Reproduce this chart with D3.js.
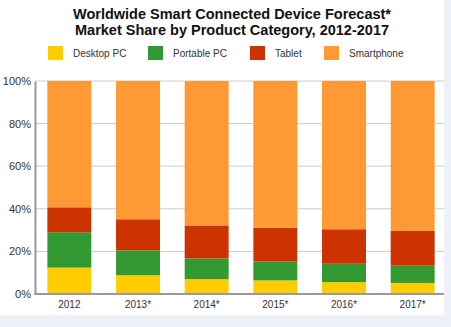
<!DOCTYPE html>
<html>
<head>
<meta charset="utf-8">
<script src="https://cdn.jsdelivr.net/npm/d3@7.9.0/dist/d3.min.js"></script>
<style>
  body { margin: 0; background: #eef2f8; }
  svg { display: block; font-family: Arial, "Liberation Sans", sans-serif; }
</style>
</head>
<body>
<svg id="chart" width="451" height="327"></svg>
<script>
// Market share (%) per product category
const years = ['2012', '2013*', '2014*', '2015*', '2016*', '2017*'];
const desktopPC = [12.4, 8.8, 7.0, 6.4, 5.6, 5.2];
const portablePC = [16.6, 11.7, 9.7, 8.8, 8.6, 8.1];
const tablet = [11.7, 14.6, 15.5, 15.9, 16.2, 16.3];
const smartphone = [59.3, 64.9, 67.8, 68.9, 69.6, 70.4];
const categories = ['Desktop PC', 'Portable PC', 'Tablet', 'Smartphone'];
const yTicks = [0, 20, 40, 60, 80, 100];

const colors = d3.scaleOrdinal()
    .domain(categories)
    .range(['#ffcc00', '#339933', '#cc3300', '#ff9933']);

const rows = years.map((year, i) => ({
    year: year,
    'Desktop PC': desktopPC[i],
    'Portable PC': portablePC[i],
    'Tablet': tablet[i],
    'Smartphone': smartphone[i]
}));

const svg = d3.select('#chart');

// white panel, the page background shows on the right and bottom edges
svg.append('rect')
    .attr('width', 444).attr('height', 315)
    .attr('fill', '#fff');

const margin = { top: 81, left: 35, right: 447, bottom: 294 };

const x = d3.scaleBand()
    .domain(years)
    .range([margin.left, margin.right])
    .paddingInner(0.36)
    .paddingOuter(0.18);

const y = d3.scaleLinear()
    .domain([0, 100])
    .range([margin.bottom, margin.top]);

// title
const title = svg.append('text')
    .attr('x', 232)
    .attr('text-anchor', 'middle')
    .attr('font-size', 14.5)
    .attr('font-weight', 'bold')
    .attr('fill', '#111');
title.append('tspan').attr('x', 232).attr('y', 19).text('Worldwide Smart Connected Device Forecast*');
title.append('tspan').attr('x', 232).attr('y', 35).text('Market Share by Product Category, 2012-2017');

// legend
const legendX = [48, 148, 250, 324];
const legend = svg.append('g');
categories.forEach((c, i) => {
    legend.append('rect')
        .attr('x', legendX[i]).attr('y', 46)
        .attr('width', 15).attr('height', 14)
        .attr('fill', colors(c));
    legend.append('text')
        .attr('x', legendX[i] + 25).attr('y', 57)
        .attr('font-size', 10)
        .attr('fill', '#333')
        .text(c);
});

// gridlines
svg.append('g')
    .selectAll('line')
    .data(yTicks.filter(d => d > 0))
    .enter()
    .append('line')
    .attr('x1', margin.left).attr('x2', 444)
    .attr('y1', d => y(d)).attr('y2', d => y(d))
    .attr('stroke', '#cccccc')
    .attr('stroke-width', 1);

// stacked bars
const stack = d3.stack().keys(categories);
const series = stack(rows);

svg.append('g')
    .selectAll('g')
    .data(series)
    .enter()
    .append('g')
    .attr('fill', d => colors(d.key))
    .selectAll('rect')
    .data(d => d)
    .enter()
    .append('rect')
    .attr('x', d => x(d.data.year))
    .attr('width', x.bandwidth())
    .attr('y', d => y(d[1]))
    .attr('height', d => y(d[0]) - y(d[1]));

// y axis
const yAxis = svg.append('g')
    .attr('transform', `translate(${margin.left},0)`)
    .call(d3.axisLeft(y).tickValues(yTicks).tickFormat(d => d + '%').tickSize(0).tickPadding(4));
yAxis.select('.domain').attr('stroke', '#999').attr('stroke-width', 2);
yAxis.selectAll('text').attr('font-size', 11).attr('fill', '#333').attr('font-family', 'Arial, "Liberation Sans", sans-serif');

// x axis
const xAxis = svg.append('g')
    .attr('transform', `translate(0,${margin.bottom})`)
    .call(d3.axisBottom(x).tickSize(0).tickPadding(7));
xAxis.select('.domain')
    .attr('d', `M${margin.left - 1},0H444`)
    .attr('stroke', '#999').attr('stroke-width', 2);
xAxis.selectAll('text').attr('font-size', 10).attr('fill', '#333').attr('font-family', 'Arial, "Liberation Sans", sans-serif');
</script>
</body>
</html>
